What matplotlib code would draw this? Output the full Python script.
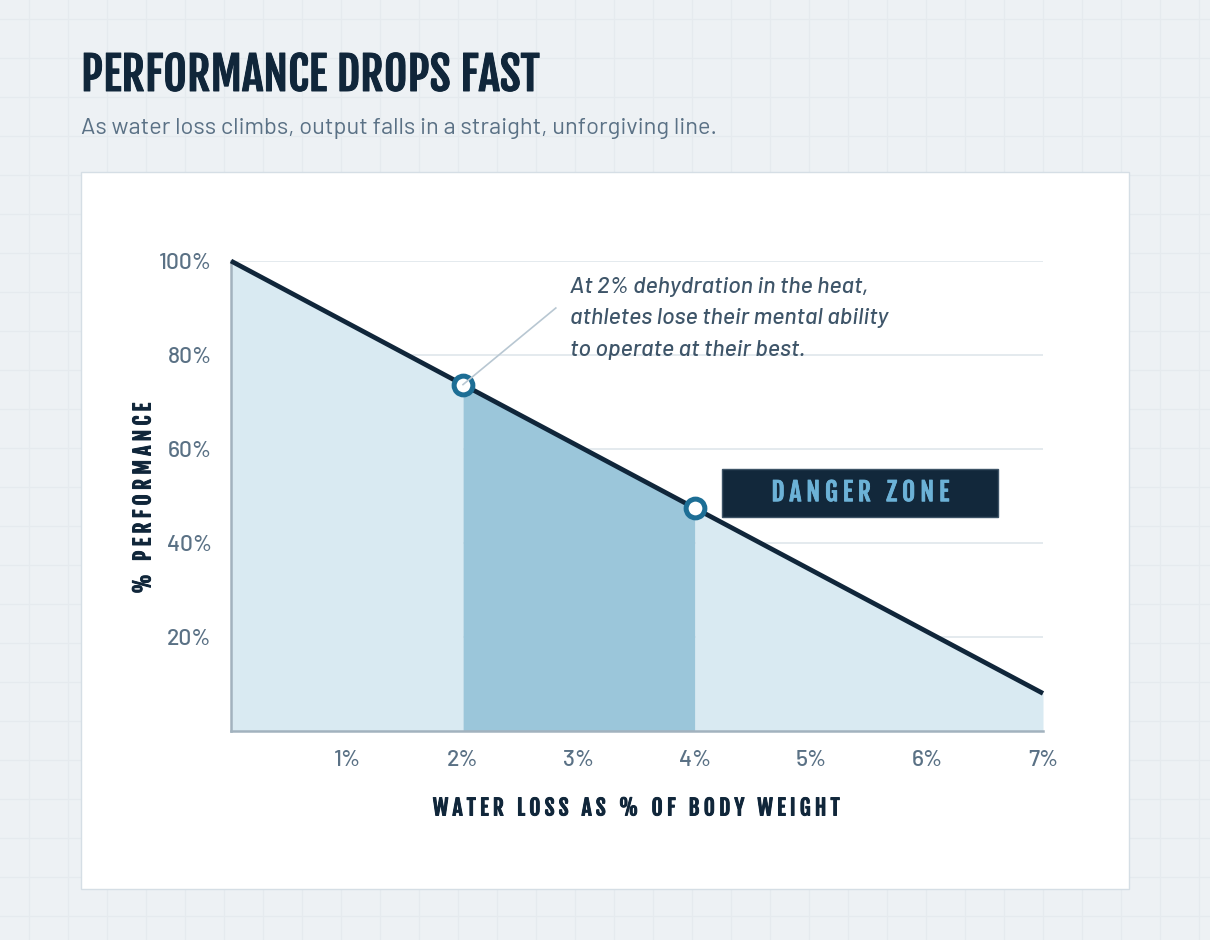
import numpy as np
import matplotlib
matplotlib.use('Agg')
import matplotlib.pyplot as plt
import matplotlib.patheffects as pe
from matplotlib.lines import Line2D
from matplotlib.patches import Rectangle

# ─── Data ────────────────────────────────────────────────────────────────────

water_loss  = np.array([0, 2, 4, 7])            # % of body weight
performance = np.array([100, 73.7, 47.4, 8.0])  # % performance
marked_x    = [2, 4]
marked_y    = [73.7, 47.4]
danger_from, danger_to = 2, 4

x_ticks  = [1, 2, 3, 4, 5, 6, 7]
y_ticks  = [20, 40, 60, 80, 100]

title    = 'PERFORMANCE DROPS FAST'
subtitle = 'As water loss climbs, output falls in a straight, unforgiving line.'
note     = ('At 2% dehydration in the heat,\n'
            'athletes lose their mental ability\n'
            'to operate at their best.')
badge    = 'DANGER ZONE'
x_label  = 'WATER LOSS AS % OF BODY WEIGHT'
y_label  = '% PERFORMANCE'

# ─── Colours / fonts ─────────────────────────────────────────────────────────

BG       = '#edf1f4'
BG_GRID  = '#e5eaee'
NAVY     = '#10263a'
SLATE    = '#5a7185'
LIGHT    = '#d9eaf2'
DARK     = '#9bc6da'
TEAL     = '#1d6e95'
HEAD     = ['Fjalla One', 'DejaVu Sans']
BODY     = 'Barlow'

W, H = 1210, 940


def spaced(s, gap='\u2009'):
    """fake letter-spacing"""
    return gap.join(s)


def bolder(color, w=0.6):
    # Fjalla One only has one weight, thicken it a little
    return [pe.withStroke(linewidth=w, foreground=color)]


fig = plt.figure(figsize=(W / 100, H / 100), dpi=100, facecolor=BG)

# graph-paper background
for px in range(29, W, 39):
    fig.add_artist(Line2D([px / W] * 2, [0, 1], transform=fig.transFigure,
                          color=BG_GRID, lw=0.9, zorder=-3))
for py in range(19, H, 39):
    fig.add_artist(Line2D([0, 1], [1 - py / H] * 2, transform=fig.transFigure,
                          color=BG_GRID, lw=0.9, zorder=-3))

# white card
fig.add_artist(Rectangle((81 / W, 1 - 889 / H), (1129 - 81) / W, (889 - 172) / H,
                         transform=fig.transFigure, fc='white', ec='#d5dee5',
                         lw=1, zorder=-2))

fig.text(81 / W, 1 - 91 / H, title, family=HEAD, size=32.8, color=NAVY,
         va='baseline', ha='left', path_effects=bolder(NAVY, 0.7))
fig.text(81 / W, 1 - 134 / H, subtitle, family=BODY, size=17, color=SLATE,
         va='baseline', ha='left')

# ─── Chart ───────────────────────────────────────────────────────────────────

ax = fig.add_axes([231 / W, 1 - 731 / H, (1043 - 231) / W, (731 - 261) / H])
ax.set_facecolor('none')
ax.set_xlim(0, 7)
ax.set_ylim(0, 100)

ax.fill_between(water_loss, performance, 0, where=water_loss <= danger_from,
                color=LIGHT, lw=0, zorder=2)
ax.fill_between(water_loss, performance, 0,
                where=(water_loss >= danger_from) & (water_loss <= danger_to),
                color=DARK, lw=0, zorder=2)
ax.fill_between(water_loss, performance, 0, where=water_loss >= danger_to,
                color=LIGHT, lw=0, zorder=2)

ax.plot(water_loss, performance, color=NAVY, lw=3.4, solid_capstyle='butt',
        clip_on=False, zorder=4)
ax.plot(marked_x, marked_y, 'o', ms=13.5, mfc='white', mec=TEAL, mew=3.6,
        clip_on=False, zorder=5)

# annotation + leader
ax.plot([marked_x[0], 2.80], [marked_y[0], 90.0], color='#b8c7d2', lw=1.2,
        zorder=6)
ax.text(2.92, 96.7, note, family=BODY, style='italic', weight='medium',
        size=16.8, color='#3e5569', va='top', ha='left', linespacing=1.72,
        zorder=6)

# danger zone badge
ax.add_patch(Rectangle((4.23, 45.5), 2.38, 10.2, fc='#12283b', ec='#3d5366',
                       lw=1, zorder=6))
ax.text(5.42, 50.7, spaced(badge, '\u2009\u200a'), family=HEAD, size=18.3,
        color='#6cb2d7', ha='center', va='center', zorder=7,
        path_effects=bolder('#6cb2d7', 0.6))

# axes styling
ax.set_xticks(x_ticks)
ax.set_xticklabels([f'{v}%' for v in x_ticks])
ax.set_yticks(y_ticks)
ax.set_yticklabels([f'{v}%' for v in y_ticks])
ax.tick_params(length=0, labelsize=16.5, labelcolor=SLATE)
ax.tick_params(axis='x', pad=14)
ax.tick_params(axis='y', pad=14)
for lab in ax.get_xticklabels() + ax.get_yticklabels():
    lab.set_family(BODY)
    lab.set_weight('medium')

ax.yaxis.grid(True, color='#e4eaee', lw=1.4)
ax.set_axisbelow(True)
for side in ('top', 'right'):
    ax.spines[side].set_visible(False)
for side in ('left', 'bottom'):
    ax.spines[side].set_color('#a2b2be')
    ax.spines[side].set_linewidth(1.8)
    ax.spines[side].set_zorder(3)

ax.set_xlabel(spaced(x_label, '\u2009\u200a'), family=HEAD, size=15.5,
              color=NAVY, va='center', path_effects=bolder(NAVY, 0.7))
ax.xaxis.set_label_coords(0.5, -(808 - 731) / 470)
ax.set_ylabel(spaced(y_label, '\u2009\u200a'), family=HEAD, size=15.5,
              color=NAVY, va='center', path_effects=bolder(NAVY, 0.7))
ax.yaxis.set_label_coords(-(231 - 143) / 812, (731 - 498) / 470)

plt.savefig('out.png', dpi=100, facecolor=BG)
